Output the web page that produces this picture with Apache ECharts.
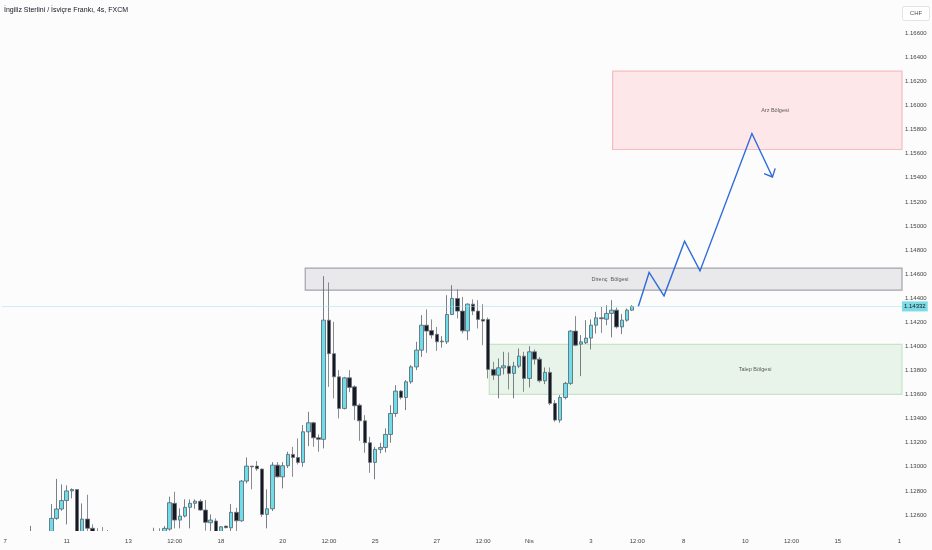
<!DOCTYPE html>
<html><head><meta charset="utf-8">
<script src="https://cdn.jsdelivr.net/npm/echarts@6/dist/echarts.min.js"></script>
<style>html,body{margin:0;padding:0;background:#fcfcfc}#c{width:932px;height:550px}</style>
</head><body><div id="c"></div>
<script>
const chartTitle = 'İngiliz Sterlini / İsviçre Frankı, 4s, FXCM';
const currency = 'CHF';
const barCount = 175;
const xTickIdx  = [0, 12, 24, 33, 42, 54, 63, 72, 84, 93, 102, 114, 123, 132, 144, 153, 162, 174];
const xTickText = ['7','11','13','12:00','18','20','12:00','25','27','12:00','Nis','3','12:00','8','10','12:00','15','1'];

// [open, high, low, close]
const candles = [
 [1.1238,1.1243,1.1230,1.1236],[1.1236,1.1242,1.1231,1.1240],[1.1240,1.1244,1.1234,1.1237],
 [1.1237,1.1241,1.1229,1.1233],[1.1233,1.1240,1.1228,1.1238],[1.1238,1.1251,1.1235,1.1242],
 [1.1242,1.1245,1.1232,1.1235],[1.1235,1.1241,1.1229,1.1237],[1.1237,1.1244,1.1233,1.1240],
 [1.1240,1.12691,1.1236,1.12572],[1.12572,1.1290,1.1256,1.1265],[1.1265,1.12854,1.12635,1.1272],
 [1.1272,1.12846,1.12522,1.1280],[1.1280,1.12821,1.12738,1.12812],[1.12812,1.12815,1.1232,1.1236],
 [1.1236,1.12696,1.1230,1.12566],[1.12566,1.12768,1.1240,1.1249],[1.1249,1.12522,1.1238,1.1242],
 [1.1242,1.1249,1.1236,1.1240],[1.1240,1.1250,1.1235,1.1238],[1.1238,1.12475,1.1231,1.1234],
 [1.1234,1.1240,1.1226,1.1230],[1.1230,1.1236,1.1222,1.1228],[1.1228,1.1235,1.1221,1.1232],
 [1.1232,1.1239,1.1226,1.1235],[1.1235,1.1242,1.1229,1.1238],[1.1238,1.1244,1.1232,1.1236],
 [1.1236,1.1243,1.1231,1.1240],[1.1240,1.1245,1.1234,1.1242],[1.1242,1.12494,1.1236,1.1244],
 [1.1244,1.1249,1.1238,1.1241],[1.1241,1.12508,1.1238,1.12489],[1.12483,1.12752,1.1247,1.12702],
 [1.12697,1.12793,1.12489,1.12558],[1.12558,1.12655,1.12489,1.12591],[1.12591,1.1273,1.1258,1.12664],
 [1.12664,1.1273,1.12489,1.12697],[1.12697,1.1273,1.12652,1.12714],[1.12714,1.1273,1.12635,1.12641],
 [1.12641,1.12724,1.1247,1.12539],[1.12536,1.12605,1.12467,1.12558],[1.12550,1.12572,1.1240,1.1246],
 [1.1246,1.12508,1.1241,1.12502],[1.12508,1.1251,1.1249,1.12495],[1.12494,1.12691,1.12467,1.12622],
 [1.12622,1.1266,1.1246,1.12552],[1.12552,1.1289,1.12544,1.12882],[1.12882,1.13078,1.12863,1.13006],
 [1.13006,1.13006,1.12813,1.13000],[1.13006,1.13048,1.12967,1.12984],[1.12981,1.12987,1.12585,1.12605],
 [1.12605,1.12813,1.12489,1.12652],[1.12652,1.13039,1.12633,1.13014],[1.13014,1.13039,1.12912,1.12917],
 [1.12917,1.13039,1.12821,1.13009],[1.13009,1.13125,1.12990,1.13103],[1.13103,1.13166,1.12917,1.13078],
 [1.13078,1.13236,1.1302,1.13037],[1.13037,1.13347,1.1300,1.13291],[1.13291,1.13457,1.13172,1.13366],
 [1.13366,1.13374,1.13166,1.13241],[1.13241,1.13269,1.13125,1.13228],[1.13228,1.14583,1.13153,1.14218],
 [1.14218,1.14531,1.13664,1.1394],[1.1394,1.14204,1.13568,1.13747],[1.13747,1.13803,1.13402,1.13485],
 [1.13485,1.13747,1.13477,1.13739],[1.13739,1.13803,1.1362,1.13659],[1.13664,1.13678,1.13388,1.13507],
 [1.13512,1.13526,1.13216,1.13382],[1.13382,1.13429,1.13117,1.132],[1.132,1.13249,1.1295,1.13037],
 [1.13037,1.13166,1.12896,1.13145],[1.13145,1.132,1.13112,1.13161],[1.13161,1.13319,1.1312,1.13269],
 [1.13269,1.13512,1.132,1.13443],[1.13443,1.13678,1.13415,1.13629],[1.13629,1.13637,1.13560,1.13576],
 [1.13576,1.1372,1.13471,1.13706],[1.13706,1.13844,1.13690,1.1383],[1.1383,1.14038,1.13803,1.13969],
 [1.13969,1.1426,1.13913,1.14176],[1.14176,1.14307,1.13947,1.14127],[1.14131,1.14224,1.14066,1.14094],
 [1.141,1.14162,1.13963,1.14038],[1.14038,1.14085,1.1399,1.14044],[1.14038,1.14425,1.14020,1.14265],
 [1.14265,1.14508,1.1426,1.14398],[1.14398,1.14473,1.14232,1.14293],[1.14293,1.14411,1.14108,1.14129],
 [1.14129,1.14357,1.14052,1.14351],[1.14351,1.1439,1.1426,1.14293],[1.14293,1.14384,1.14149,1.14224],
 [1.14224,1.14351,1.1401,1.1421],[1.14224,1.14240,1.13734,1.13809],[1.13809,1.13872,1.1372,1.13761],
 [1.13761,1.139,1.13568,1.13822],[1.13822,1.13955,1.13767,1.13839],[1.13836,1.1395,1.13643,1.13776],
 [1.13776,1.13872,1.13568,1.13836],[1.13836,1.13983,1.13820,1.13919],[1.13919,1.13955,1.13623,1.13734],
 [1.13734,1.14002,1.13659,1.13955],[1.13955,1.13975,1.13850,1.13894],[1.13894,1.13913,1.13700,1.13714],
 [1.13714,1.13825,1.13687,1.13784],[1.13784,1.13825,1.13512,1.13527],[1.13527,1.13554,1.13374,1.13388],
 [1.13388,1.13595,1.13366,1.13576],[1.13576,1.13706,1.1356,1.13693],[1.13693,1.14135,1.13680,1.14127],
 [1.14127,1.14251,1.14002,1.1401],[1.14019,1.14094,1.13753,1.14038],[1.1403,1.14218,1.14020,1.14069],
 [1.14069,1.14224,1.13975,1.14176],[1.14176,1.14287,1.14107,1.14237],[1.14237,1.14328,1.14112,1.1423],
 [1.14226,1.14342,1.14176,1.14274],[1.14274,1.14384,1.14075,1.14301],[1.14301,1.14323,1.14149,1.14162],
 [1.14162,1.14268,1.14102,1.14218],[1.14218,1.14315,1.14205,1.14301],[1.14301,1.14342,1.14295,1.14332]
];
const lastPrice = 1.14332;

// projected path (bar index, price)
const pathX = [123.2, 125.3, 128.2, 132.2, 135.2, 145.3, 149.3];
const pathY = [1.14332, 1.14614, 1.14420, 1.14874, 1.14627, 1.15768, 1.15407];

// zones
const zoneNames  = ['Direnç  Bölgesi', 'Talep Bölgesi', 'Arz Bölgesi'];
const zoneStart  = [58.4, 94.2, 118.2];
const zoneTop    = [1.14650, 1.14016, 1.16285];
const zoneBottom = [1.14467, 1.13601, 1.15635];
const zoneLabelX = [117.7, 145.9, 149.8];
const zoneLabelY = [1.14558, 1.13811, 1.15961];
const zoneFill   = ['#e9e9ec', '#e8f4e9', '#fde7e9'];
const zoneBorder = ['#a3a3aa', '#c6e4c7', '#f5bcc3'];

const FONT = 'Liberation Sans';
const BG = '#fcfcfc';
const GRID = {left: 2.5, right: 30, top: 0, bottom: 19};
const categories = Array.from({length: barCount}, (_, i) => String(i));
const tickMap = {};
xTickIdx.forEach((k, i) => tickMap[k] = xTickText[i]);

const chart = echarts.init(document.getElementById('c'), null, {renderer: 'canvas'});
chart.setOption({
  animation: false,
  backgroundColor: BG,
  textStyle: {fontFamily: FONT},
  title: {text: chartTitle, left: 4, top: 7, padding: 0, textStyle: {fontSize: 7, fontWeight: 'normal', color: '#131722', fontFamily: FONT}},
  grid: GRID,
  xAxis: [
    {type: 'category', data: categories, boundaryGap: true, z: 60,
     axisLine: {show: false}, axisTick: {show: false}, splitLine: {show: false},
     axisLabel: {interval: 0, margin: 7, fontSize: 6, color: '#444', fontFamily: FONT,
       formatter: (v, i) => tickMap[i] !== undefined ? tickMap[i] : ''}},
    {type: 'value', min: -0.5, max: barCount - 0.5, show: false, gridIndex: 0}
  ],
  yAxis: {type: 'value', position: 'right', min: 1.124672, max: 1.168763, scale: true, z: 60,
    splitNumber: 22, minInterval: 0.002, maxInterval: 0.002,
    axisLine: {show: false}, axisTick: {show: false}, splitLine: {show: false},
    axisLabel: {showMinLabel: false, showMaxLabel: false, margin: 3, fontSize: 6, color: '#444', fontFamily: FONT,
      formatter: v => (v > 1.1661 || v < 1.1255) ? '' : v.toFixed(5)}},
  graphic: [
    // plain background strip under the plot area, so candles below the visible range are cut at the plot edge
    {type: 'rect', left: 0, bottom: 0, z: 50, silent: true,
     shape: {width: 932, height: GRID.bottom}, style: {fill: BG}},
    {type: 'group', left: 902, top: 6, z: 70, children: [
      {type: 'rect', shape: {x: 0, y: 0, width: 27, height: 14, r: 2}, style: {fill: '#ffffff', stroke: '#e0e3eb', lineWidth: 1}},
      {type: 'text', style: {x: 13.5, y: 7, text: currency, fontSize: 6, fill: '#555', align: 'center', verticalAlign: 'middle', fontFamily: FONT}}
    ]}
  ],
  series: [
    {type: 'scatter', xAxisIndex: 1, z: 1, symbolSize: 0, silent: true,
     data: zoneNames.map((n, i) => ({name: n, value: [zoneLabelX[i], zoneLabelY[i]]})),
     label: {show: true, position: 'inside', formatter: '{b}', fontSize: 5.5, color: '#333', fontFamily: FONT},
     markArea: {silent: true, data: zoneNames.map((n, i) => [
       {coord: [zoneStart[i], zoneTop[i]], itemStyle: {color: zoneFill[i], borderColor: zoneBorder[i], borderWidth: 1.2}},
       {coord: [barCount - 0.5, zoneBottom[i]]}
     ])}},
    {type: 'candlestick', xAxisIndex: 0, z: 3, clip: true, barWidth: 4,
     data: candles.map(([o, h, l, c]) => [o, c, l, h]),
     itemStyle: {color: '#6fdde9', color0: '#151a24', borderColor: '#55606b', borderColor0: '#6b6f76', borderWidth: 0.8},
     markLine: {silent: true, symbol: 'none', precision: 5, data: [{yAxis: lastPrice}],
       lineStyle: {color: '#9fe2ea', type: 'dotted', width: 1},
       label: {show: true, position: 'end', distance: 0, formatter: lastPrice.toFixed(5), fontSize: 6, color: '#0d1b22',
         backgroundColor: '#7ddbe6', padding: [2, 2], fontFamily: FONT}}},
    {type: 'custom', xAxisIndex: 1, z: 4, silent: true,
     data: pathX.map((x, i) => [x, pathY[i]]),
     encode: {x: 0, y: 1},
     renderItem: function (params, api) {
       if (params.dataIndex !== 0) return null;
       const pts = pathX.map((x, i) => api.coord([x, pathY[i]]));
       const n = pts.length;
       const p1 = pts[n - 2], p2 = pts[n - 1];
       const ang = Math.atan2(p1[1] - p2[1], p1[0] - p2[0]);
       const L = 9, a = 43 * Math.PI / 180;
       const w1 = [p2[0] + L * Math.cos(ang - a), p2[1] + L * Math.sin(ang - a)];
       const w2 = [p2[0] + L * Math.cos(ang + a), p2[1] + L * Math.sin(ang + a)];
       const st = {stroke: '#2f6bdb', lineWidth: 1.4, fill: null};
       return {type: 'group', children: [
         {type: 'polyline', shape: {points: pts}, style: st},
         {type: 'polyline', shape: {points: [w1, p2, w2]}, style: st}
       ]};
     }}
  ]
});
</script></body></html>
